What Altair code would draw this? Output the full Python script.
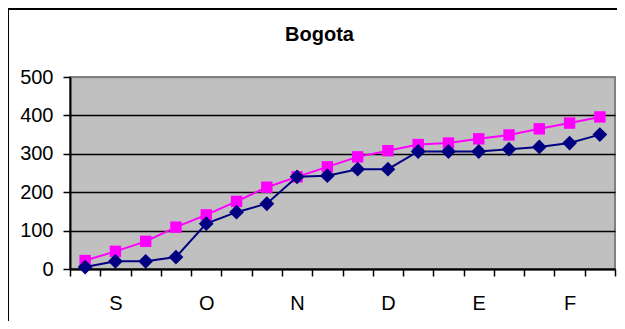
import altair as alt
import pandas as pd

title_text = "Bogota"
month_letters = ["S", "O", "N", "D", "E", "F"]
point_index = list(range(18))
series_navy = [5, 20, 20, 31, 118, 148, 170, 240, 243, 260, 260, 306, 306, 306, 312, 318, 328, 350]
series_pink = [22, 46, 72, 109, 141, 176, 213, 240, 266, 292, 308, 324, 328, 339, 349, 365, 380, 396]
y_ticks = [0, 100, 200, 300, 400, 500]

df_navy = pd.DataFrame({"idx": point_index, "value": series_navy})
df_pink = pd.DataFrame({"idx": point_index, "value": series_pink})

label_array = ["" for _ in point_index]
for i, m in enumerate(month_letters):
    label_array[3 * i + 1] = m
label_expr = "[" + ",".join(f"'{s}'" for s in label_array) + "][datum.value]"

FONT = "Liberation Sans"

x_enc = alt.X(
    "idx:O",
    scale=alt.Scale(paddingInner=0, paddingOuter=0),
    axis=alt.Axis(
        title=None, labelExpr=label_expr, labelAngle=0, tickBand="extent",
        tickSize=7, tickColor="black", tickWidth=1.5,
        domainColor="black", domainWidth=2,
        labelFont=FONT, labelFontSize=20, labelColor="black", labelPadding=17,
        grid=False,
    ),
)
y_enc = alt.Y(
    "value:Q",
    scale=alt.Scale(domain=[0, 500], nice=False),
    axis=alt.Axis(
        title=None, values=y_ticks,
        tickSize=7, tickColor="black", tickWidth=1.5,
        domainColor="black", domainWidth=2,
        labelFont=FONT, labelFontSize=20, labelColor="black", labelPadding=10,
        grid=True,
        gridColor=alt.condition("datum.value == 500", alt.value("#808080"), alt.value("black")),
        gridWidth=1.5,
    ),
)

navy = alt.Chart(df_navy).mark_line(
    color="#000080", strokeWidth=2,
    point=alt.OverlayMarkDef(shape="diamond", size=220, filled=True, color="#000080", opacity=1),
).encode(x=x_enc, y=y_enc)

pink = alt.Chart(df_pink).mark_line(
    color="#FF00FF", strokeWidth=2,
    point=alt.OverlayMarkDef(shape="square", size=130, filled=True, color="#FF00FF", opacity=1),
).encode(x=x_enc, y=y_enc)

frame_df = pd.DataFrame({"f": [0]})
frame_top = alt.Chart(frame_df).mark_rule(color="black", strokeWidth=2, clip=False).encode(
    x=alt.value(-62), x2=alt.value(1000), y=alt.value(-68)
)
frame_left = alt.Chart(frame_df).mark_rule(color="black", strokeWidth=2, clip=False).encode(
    x=alt.value(-62), y=alt.value(-69), y2=alt.value(600)
)

chart = alt.layer(pink, navy, frame_top, frame_left).properties(
    width=545, height=192,
    autosize="none",
    padding={"left": 62, "top": 69, "right": 2, "bottom": 52},
    title=alt.TitleParams(
        title_text, font=FONT, fontSize=20, fontWeight="bold", color="black",
        anchor="middle", dx=-23, offset=0, dy=54, baseline="alphabetic",
    ),
).configure_view(
    fill="#C0C0C0", stroke="#808080", strokeWidth=2
)

chart.save("out.html", embed_options={"renderer": "svg", "actions": False})
